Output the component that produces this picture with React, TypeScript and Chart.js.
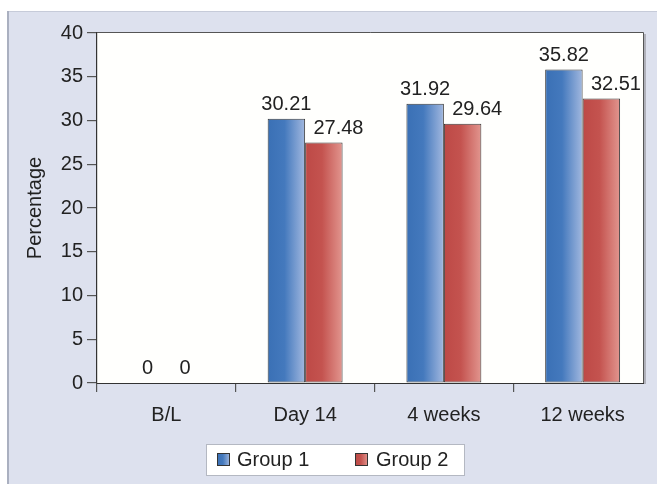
import React, { useEffect, useRef } from "react";
import { Chart, registerables } from "chart.js";

Chart.register(...registerables);

const categories = ["B/L", "Day 14", "4 weeks", "12 weeks"];
const group1 = [0, 30.21, 31.92, 35.82];
const group2 = [0, 27.48, 29.64, 32.51];
const seriesNames = ["Group 1", "Group 2"];
const yMin = 0;
const yMax = 40;
const yStep = 5;
const yTitle = "Percentage";

const FONT = "'Liberation Sans', Arial, Helvetica, sans-serif";
const CAT_PCT = 0.54;
const STOPS = [
  [
    [0, "#3a70b5"],
    [0.45, "#4479bd"],
    [1, "#a2b8df"],
  ],
  [
    [0, "#bd4946"],
    [0.45, "#c4534f"],
    [1, "#e2968f"],
  ],
] as [number, string][][];
const SOLID = ["#4a7dc0", "#c0504d"];

function grad(ctx: CanvasRenderingContext2D, x0: number, x1: number, ds: number) {
  const g = ctx.createLinearGradient(x0, 0, x1, 0);
  STOPS[ds].forEach(([o, c]) => g.addColorStop(o, c));
  return g;
}

function barGradient(chart: any, i: number, ds: number) {
  const area = chart.chartArea;
  const xs = chart.scales && chart.scales.x;
  if (!area || !xs) return SOLID[ds];
  const catW = area.width / categories.length;
  const barW = (catW * CAT_PCT) / 2;
  const c = xs.getPixelForValue(i);
  const x0 = ds === 0 ? c - barW : c;
  return grad(chart.ctx, x0, x0 + barW, ds);
}

const framePlugin = {
  id: "frame",
  beforeDraw(chart: any) {
    const { ctx, width, height, chartArea: a } = chart;
    ctx.save();
    ctx.fillStyle = "#ffffff";
    ctx.fillRect(0, 0, width, height);
    // outer panel
    ctx.fillStyle = "#dde1ee";
    ctx.fillRect(7, 11, width - 7, height - 11);
    ctx.fillStyle = "#c6cbd9";
    ctx.fillRect(7, 11, width - 7, 1);
    ctx.fillStyle = "#aab0c0";
    ctx.fillRect(7, 11, 2, height - 11);
    // plot area
    ctx.fillStyle = "#fffffd";
    ctx.fillRect(a.left, a.top, 643 - a.left, a.bottom - a.top);
    ctx.restore();
  },
  afterDatasetsDraw(chart: any) {
    const { ctx } = chart;
    ctx.save();
    ctx.font = `20px ${FONT}`;
    ctx.fillStyle = "#222222";
    ctx.textBaseline = "alphabetic";
    ctx.textAlign = "left";
    const m0 = chart.getDatasetMeta(0);
    const m1 = chart.getDatasetMeta(1);
    const d0 = chart.data.datasets[0].data;
    const d1 = chart.data.datasets[1].data;
    for (let i = 0; i < categories.length; i++) {
      const e0 = m0.data[i];
      const e1 = m1.data[i];
      const t0 = String(d0[i]);
      const t1 = String(d1[i]);
      const w0 = ctx.measureText(t0).width;
      const w1 = ctx.measureText(t1).width;
      const l0 = e0.x - w0 / 2;
      let l1 = e1.x - w1 / 2;
      l1 = Math.max(l1, l0 + w0 + 2);
      ctx.fillText(t0, l0, e0.y - 9);
      ctx.fillText(t1, l1, e1.y - 9);
    }
    ctx.restore();
  },
  afterDraw(chart: any) {
    const { ctx, chartArea: a } = chart;
    const right = 643;
    ctx.save();
    // frame top & right
    ctx.strokeStyle = "#555555";
    ctx.lineWidth = 1;
    ctx.beginPath();
    ctx.moveTo(a.left, a.top - 0.5);
    ctx.lineTo(right + 0.5, a.top - 0.5);
    ctx.lineTo(right + 0.5, a.bottom);
    ctx.stroke();
    ctx.strokeStyle = "#a0a0a8";
    ctx.lineWidth = 1.5;
    ctx.beginPath();
    ctx.moveTo(right + 2, a.top + 1);
    ctx.lineTo(right + 2, a.bottom + 1);
    ctx.stroke();
    // bottom axis line
    ctx.strokeStyle = "#333333";
    ctx.lineWidth = 1.2;
    ctx.beginPath();
    ctx.moveTo(a.left, a.bottom + 0.5);
    ctx.lineTo(right + 1, a.bottom + 0.5);
    ctx.stroke();

    // legend
    const bx = 206, by = 444, bw = 258, bh = 31;
    ctx.fillStyle = "#ffffff";
    ctx.fillRect(bx, by, bw, bh);
    ctx.strokeStyle = "#b4b8c2";
    ctx.lineWidth = 1;
    ctx.strokeRect(bx + 0.5, by + 0.5, bw, bh);
    const items = [
      { sx: 217, tx: 237 },
      { sx: 355, tx: 376 },
    ];
    ctx.font = `20px ${FONT}`;
    ctx.textBaseline = "middle";
    ctx.textAlign = "left";
    items.forEach((it, ds) => {
      ctx.fillStyle = grad(ctx, it.sx, it.sx + 13, ds);
      ctx.fillRect(it.sx, 453, 13, 13);
      ctx.strokeStyle = "#333333";
      ctx.strokeRect(it.sx + 0.5, 453.5, 12, 12);
      ctx.fillStyle = "#222222";
      ctx.fillText(chart.data.datasets[ds].label, it.tx, 460);
    });
    ctx.restore();
  },
};

export default function App() {
  const ref = useRef<HTMLCanvasElement | null>(null);
  useEffect(() => {
    if (!ref.current) return;
    Chart.defaults.font.family = FONT;
    const chart = new Chart(ref.current, {
      type: "bar",
      data: {
        labels: categories,
        datasets: [
          {
            label: seriesNames[0],
            data: group1,
            backgroundColor: (c: any) => barGradient(c.chart, c.dataIndex, 0),
            borderColor: "#3a3a3a",
            borderWidth: 1,
            borderSkipped: false,
            categoryPercentage: CAT_PCT,
            barPercentage: 1,
          },
          {
            label: seriesNames[1],
            data: group2,
            backgroundColor: (c: any) => barGradient(c.chart, c.dataIndex, 1),
            borderColor: "#3a3a3a",
            borderWidth: 1,
            borderSkipped: false,
            categoryPercentage: CAT_PCT,
            barPercentage: 1,
          },
        ],
      },
      options: {
        responsive: false,
        animation: false,
        devicePixelRatio: 1,
        layout: { padding: { top: 33, right: 5, left: 0, bottom: 0 } },
        plugins: {
          legend: { display: false },
          tooltip: { enabled: false },
        },
        scales: {
          x: {
            offset: true,
            border: { display: false },
            grid: {
              display: true,
              offset: true,
              drawOnChartArea: false,
              drawTicks: true,
              tickLength: 9,
              lineWidth: 1.2,
              color: (c: any) => (c.type === "tick" ? "#555555" : "rgba(0,0,0,0)"),
            },
            ticks: {
              color: "#222222",
              font: { size: 20, family: FONT },
              padding: 11,
              maxRotation: 0,
            },
            afterFit: (s: any) => {
              s.height = 101;
            },
          },
          y: {
            min: yMin,
            max: yMax,
            border: { display: true, color: "#333333", width: 1.2 },
            grid: {
              drawOnChartArea: false,
              drawTicks: true,
              tickLength: 10,
              color: "#555555",
              lineWidth: 1.2,
            },
            ticks: {
              stepSize: yStep,
              color: "#222222",
              font: { size: 20, family: FONT },
              padding: 4,
            },
            title: {
              display: true,
              text: yTitle,
              color: "#222222",
              font: { size: 20, family: FONT },
              padding: { top: 23, bottom: 0 },
            },
            afterFit: (s: any) => {
              s.width = 97;
            },
          },
        },
      },
      plugins: [framePlugin],
    });
    return () => chart.destroy();
  }, []);
  return (
    <div style={{ position: "absolute", left: 0, top: 0, width: 657, height: 484 }}>
      <canvas ref={ref} width={657} height={484} style={{ display: "block" }} />
    </div>
  );
}
